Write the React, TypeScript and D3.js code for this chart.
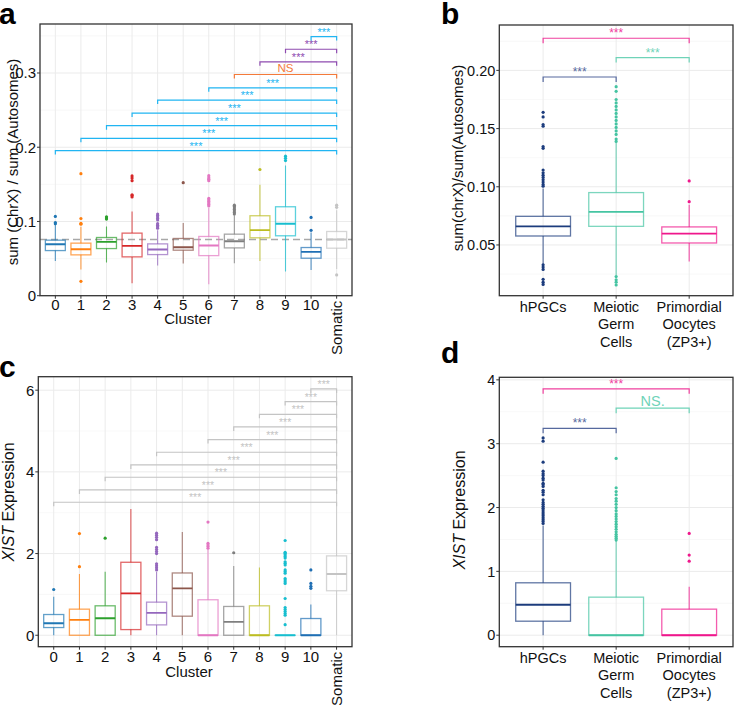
import React from "react";
import * as d3 from "d3";

// ---- panel a / c : clusters ----
const clusters = ["0", "1", "2", "3", "4", "5", "6", "7", "8", "9", "10", "Somatic"];
const clusterColors = [
  "#1f77b4", "#ff7f0e", "#2ca02c", "#d62728", "#9467bd", "#8c564b",
  "#e377c2", "#7f7f7f", "#bcbd22", "#17becf", "#1f6fb4", "#c4c4c4",
];

// chrX / autosome ratio per cluster
const aLow = [0.0469, 0.0352, 0.0446, 0.0167, 0.0406, 0.0433, 0.0154, 0.0437, 0.0469, 0.0325, 0.0347, 0.036];
const aQ1 = [0.0608, 0.055, 0.0635, 0.0523, 0.0554, 0.0613, 0.054, 0.0644, 0.078, 0.0807, 0.0505, 0.064];
const aMed = [0.0694, 0.0626, 0.0725, 0.0671, 0.0622, 0.0653, 0.0676, 0.0734, 0.0883, 0.0969, 0.059, 0.0757];
const aQ3 = [0.0748, 0.0708, 0.0784, 0.0843, 0.0698, 0.0771, 0.0798, 0.0829, 0.1077, 0.1198, 0.0649, 0.0865];
const aHigh = [0.0951, 0.0928, 0.0933, 0.1135, 0.088, 0.0978, 0.118, 0.108, 0.1496, 0.1753, 0.085, 0.115];
const aOutliers = [
  [0.0969, 0.0985, 0.1068],
  [0.0194, 0.0964, 0.0975, 0.104, 0.1644],
  [0.1032, 0.1045, 0.1063],
  [0.133, 0.135, 0.136, 0.155, 0.1585, 0.1613],
  [0.091, 0.093, 0.095, 0.097, 0.102, 0.104, 0.106, 0.108, 0.11],
  [0.1523],
  [0.121, 0.123, 0.125, 0.127, 0.129, 0.131, 0.155, 0.157, 0.159, 0.1617],
  [0.11, 0.112, 0.114, 0.116, 0.118, 0.12, 0.122],
  [0.17],
  [0.182, 0.185, 0.188],
  [0.088, 0.1054],
  [0.028, 0.119, 0.122],
];
const aSomaticMedian = 0.0757;
const aTicks = [0, 0.1, 0.2, 0.3];
const aTickLabels = ["0", "0.1", "0.2", "0.3"];
const aMinor = [0.05, 0.15, 0.25, 0.35];
const aBracketFrom = ["0", "1", "2", "3", "4", "6", "7", "8", "9", "10"];
const aBracketY = [0.1955, 0.212, 0.229, 0.246, 0.2635, 0.28, 0.298, 0.315, 0.332, 0.349];
const aBracketText = ["***", "***", "***", "***", "***", "***", "NS", "***", "***", "***"];
const aBracketColors = ["#21b5f2", "#21b5f2", "#21b5f2", "#21b5f2", "#21b5f2", "#21b5f2", "#f47a3a", "#8e4bb0", "#8e4bb0", "#21b5f2"];

// XIST expression per cluster
const cLow = [0, 0, 0, 0, 0, 0, 0, 0, 0, 0, 0, 0];
const cQ1 = [0.189, 0, 0, 0.139, 0.254, 0.467, 0, 0, 0, 0, 0, 1.09];
const cMed = [0.295, 0.377, 0.418, 1.025, 0.549, 1.148, 0, 0.328, 0, 0, 0, 1.5];
const cQ3 = [0.508, 0.639, 0.721, 1.787, 0.811, 1.525, 0.869, 0.705, 0.721, 0, 0.41, 1.943];
const cHigh = [0.943, 1.5, 1.557, 3.09, 1.55, 2.525, 2.1, 1.697, 1.656, 0, 0.754, 6.0];
const cOutliers = [
  [1.12],
  [1.68, 2.49],
  [2.377],
  [],
  [1.6, 1.65, 1.7, 1.75, 2.0, 2.05, 2.1, 2.15, 2.34, 2.4, 2.45, 2.5],
  [],
  [2.13, 2.17, 2.21, 2.25, 2.77],
  [2.02],
  [],
  [0.26, 0.49, 0.53, 0.58, 0.63, 0.68, 0.9, 1.27, 1.31, 1.35, 1.39, 1.52, 1.56, 1.6, 1.72, 1.76, 1.8, 1.89, 1.93, 1.97, 2.01, 2.03, 2.32],
  [1.15, 1.2, 1.27, 1.6],
  [],
];
const cTicks = [0, 2, 4, 6];
const cTickLabels = ["0", "2", "4", "6"];
const cMinor = [1, 3, 5];
const cBracketY = [3.256, 3.557, 3.868, 4.17, 4.48, 4.79, 5.1, 5.41, 5.72, 6.03];

// ---- panel b / d : cell types ----
const cellTypes = ["hPGCs", "Meiotic\nGerm\nCells", "Primordial\nOocytes\n(ZP3+)"];
const cellColors = ["#1c3c7d", "#45c4a2", "#ef178c"];

const bLow = [0.0328, 0.024, 0.0357];
const bQ1 = [0.0577, 0.066, 0.0517];
const bMed = [0.066, 0.0784, 0.0597];
const bQ3 = [0.0746, 0.095, 0.0655];
const bHigh = [0.0985, 0.138, 0.0845];
const bOutliers = [
  [0.0161, 0.018, 0.0205, 0.029, 0.031, 0.033, 0.1005, 0.102, 0.104, 0.106, 0.108, 0.11, 0.112, 0.1144, 0.133, 0.1345, 0.152, 0.1535, 0.16, 0.164],
  [0.0156, 0.018, 0.02, 0.0228, 0.139, 0.141, 0.145, 0.148, 0.151, 0.154, 0.157, 0.16, 0.163, 0.166, 0.169, 0.172, 0.175, 0.182, 0.186],
  [0.0872, 0.105],
];
const bTicks = [0.05, 0.1, 0.15, 0.2];
const bTickLabels = ["0.05", "0.10", "0.15", "0.20"];
const bMinor = [0.025, 0.075, 0.125, 0.175, 0.225];
const bBracketFrom = [0, 1, 0];
const bBracketTo = [1, 2, 2];
const bBracketY = [0.1943, 0.211, 0.2276];
const bBracketText = ["***", "***", "***"];

const dLow = [0, 0, 0];
const dQ1 = [0.2196, 0, 0];
const dMed = [0.476, 0, 0];
const dQ3 = [0.821, 0.596, 0.408];
const dHigh = [1.72, 1.48, 0.758];
const dOutliers = [
  [1.75, 1.78, 1.81, 1.84, 1.87, 1.9, 1.93, 1.96, 1.99, 2.02, 2.05, 2.08, 2.12, 2.2, 2.24, 2.27, 2.33, 2.36, 2.38, 2.43, 2.46, 2.5, 2.53, 2.57, 2.71, 3.04, 3.09],
  [1.49, 1.52, 1.55, 1.58, 1.62, 1.66, 1.7, 1.74, 1.78, 1.82, 1.86, 1.9, 1.95, 2.0, 2.05, 2.1, 2.14, 2.2, 2.25, 2.31, 2.77],
  [1.16, 1.255, 1.594],
];
const dTicks = [0, 1, 2, 3, 4];
const dTickLabels = ["0", "1", "2", "3", "4"];
const dMinor = [0.5, 1.5, 2.5, 3.5];
const dBracketY = [3.24, 3.556, 3.86];
const dBracketText = ["***", "NS.", "***"];

const FONT = "'Liberation Sans', Arial, Helvetica, sans-serif";

type Bracket = { from: number; to: number; y: number; label: string; color: string; size: number; lift: number };

type PanelProps = {
  left: number; right: number; top: number; bottom: number;
  cats: string[]; domain: [number, number];
  ticks: number[]; tickLabels: string[]; minor: number[];
  low: number[]; q1: number[]; med: number[]; q3: number[]; high: number[]; outliers: number[][];
  colors: string[]; boxFrac: number; fontSize: number;
  labelBaseline: number; lineHeight: number;
  brackets: Bracket[]; bracketTick: number;
  refLine?: number;
  rotateLast?: boolean;
};

function Panel(p: PanelProps) {
  const x = d3.scalePoint<string>().domain(p.cats).range([p.left, p.right]).padding(0.6);
  const y = d3.scaleLinear().domain(p.domain).range([p.bottom, p.top]);
  const bw = x.step() * p.boxFrac;
  const clip = `clip-${Math.round(p.left)}-${Math.round(p.top)}`;

  return (
    <g fontFamily={FONT}>
      <defs>
        <clipPath id={clip}>
          <rect x={p.left} y={p.top} width={p.right - p.left} height={p.bottom - p.top} />
        </clipPath>
      </defs>
      <rect x={p.left} y={p.top} width={p.right - p.left} height={p.bottom - p.top} fill="#fff" />
      <g clipPath={`url(#${clip})`}>
        {p.minor.map((t) => (
          <line key={"mn" + t} x1={p.left} x2={p.right} y1={y(t)} y2={y(t)} stroke="#f4f4f4" strokeWidth={0.6} />
        ))}
        {p.ticks.map((t) => (
          <line key={"mj" + t} x1={p.left} x2={p.right} y1={y(t)} y2={y(t)} stroke="#ebebeb" strokeWidth={1} />
        ))}
        {p.cats.map((c) => (
          <line key={"v" + c} x1={x(c)} x2={x(c)} y1={p.top} y2={p.bottom} stroke="#ebebeb" strokeWidth={1} />
        ))}
        {p.refLine !== undefined && (
          <line x1={p.left} x2={p.right} y1={y(p.refLine)} y2={y(p.refLine)} stroke="#a8a8a8" strokeWidth={1.6} strokeDasharray="7,4" />
        )}
        {p.cats.map((c, i) => {
          const cx = x(c) as number;
          const col = p.colors[i];
          return (
            <g key={"b" + c}>
              <line x1={cx} x2={cx} y1={y(p.q3[i])} y2={y(p.high[i])} stroke={col} strokeOpacity={0.75} strokeWidth={1.1} />
              <line x1={cx} x2={cx} y1={y(p.q1[i])} y2={y(p.low[i])} stroke={col} strokeOpacity={0.75} strokeWidth={1.1} />
              <rect x={cx - bw / 2} y={y(p.q3[i])} width={bw} height={Math.max(0.01, y(p.q1[i]) - y(p.q3[i]))} fill="none" stroke={col} strokeOpacity={0.7} strokeWidth={1.3} />
              <line x1={cx - bw / 2} x2={cx + bw / 2} y1={y(p.med[i])} y2={y(p.med[i])} stroke={col} strokeWidth={1.9} />
              {p.outliers[i].map((v, k) => (
                <circle key={k} cx={cx} cy={y(v)} r={1.6} fill={col} />
              ))}
            </g>
          );
        })}
        {p.brackets.map((b, i) => {
          const xa = x(p.cats[b.from]) as number;
          const xb = x(p.cats[b.to]) as number;
          const yy = y(b.y);
          return (
            <g key={"br" + i}>
              <path d={`M${xa},${yy + p.bracketTick}V${yy}H${xb}V${yy + p.bracketTick}`} fill="none" stroke={b.color} strokeWidth={1.2} />
              <text x={(xa + xb) / 2} y={yy - b.lift} textAnchor="middle" fontSize={b.size} fill={b.color}>
                {b.label}
              </text>
            </g>
          );
        })}
      </g>
      <rect x={p.left} y={p.top} width={p.right - p.left} height={p.bottom - p.top} fill="none" stroke="#333" strokeWidth={1.3} />
      {p.ticks.map((t) => (
        <g key={"yt" + t}>
          <line x1={p.left - 3} x2={p.left} y1={y(t)} y2={y(t)} stroke="#333" strokeWidth={1} />
        </g>
      ))}
      {p.ticks.map((t, i) => (
        <text key={"ytl" + t} x={p.left - 4} y={y(t)} dy="0.36em" textAnchor="end" fontSize={p.fontSize} fill="#111">
          {p.tickLabels[i]}
        </text>
      ))}
      {p.cats.map((c, i) => {
        const cx = x(c) as number;
        const rot = p.rotateLast && i === p.cats.length - 1;
        return (
          <g key={"xt" + c}>
            <line x1={cx} x2={cx} y1={p.bottom} y2={p.bottom + 3} stroke="#333" strokeWidth={1} />
            {rot ? (
              <text transform={`translate(${cx + 5},${p.bottom + 5}) rotate(-90)`} textAnchor="end" fontSize={p.fontSize} fill="#111">
                {c}
              </text>
            ) : (
              <text x={cx} y={p.labelBaseline} textAnchor="middle" fontSize={p.fontSize} fill="#111">
                {c.split("\n").map((line, k) => (
                  <tspan key={k} x={cx} dy={k === 0 ? 0 : p.lineHeight}>
                    {line}
                  </tspan>
                ))}
              </text>
            )}
          </g>
        );
      })}
    </g>
  );
}

function clusterBrackets(ys: number[], texts: string[], colors: string[], size: number, nsSize: number): Bracket[] {
  return aBracketFrom.map((f, i) => ({
    from: clusters.indexOf(f),
    to: clusters.length - 1,
    y: ys[i],
    label: texts[i],
    color: colors[i],
    size: texts[i] === "***" ? size : nsSize,
    lift: texts[i] === "***" ? 1 : 2.5,
  }));
}

export default function App() {
  const aBr = clusterBrackets(aBracketY, aBracketText, aBracketColors, 11, 11.5);
  const cBr = clusterBrackets(cBracketY, cBracketY.map(() => "***"), cBracketY.map(() => "#c4c4c4"), 10.5, 10.5);
  const bBr: Bracket[] = bBracketY.map((v, i) => ({
    from: bBracketFrom[i], to: bBracketTo[i], y: v, label: bBracketText[i],
    color: ["#56699e", "#6fd3b8", "#f0409e"][i], size: 12, lift: 1,
  }));
  const dBr: Bracket[] = dBracketY.map((v, i) => ({
    from: bBracketFrom[i], to: bBracketTo[i], y: v, label: dBracketText[i],
    color: ["#56699e", "#6fd3b8", "#f0409e"][i], size: dBracketText[i] === "NS." ? 14.5 : 12, lift: dBracketText[i] === "NS." ? 2 : 1,
  }));

  return (
    <svg width={734} height={705} style={{ position: "absolute", left: 0, top: 0, background: "#fff" }} fontFamily={FONT}>
      <Panel
        left={40} right={352} top={24} bottom={295.7}
        cats={clusters} domain={[0, 0.366]}
        ticks={aTicks} tickLabels={aTickLabels} minor={aMinor}
        low={aLow} q1={aQ1} med={aMed} q3={aQ3} high={aHigh} outliers={aOutliers}
        colors={clusterColors} boxFrac={0.78} fontSize={15}
        labelBaseline={309.5} lineHeight={17}
        brackets={aBr} bracketTick={4} refLine={aSomaticMedian} rotateLast
      />
      <Panel
        left={499.3} right={733} top={25} bottom={295.7}
        cats={cellTypes} domain={[0.0064, 0.239]}
        ticks={bTicks} tickLabels={bTickLabels} minor={bMinor}
        low={bLow} q1={bQ1} med={bMed} q3={bQ3} high={bHigh} outliers={bOutliers}
        colors={cellColors} boxFrac={0.75} fontSize={14.5}
        labelBaseline={312} lineHeight={17.3}
        brackets={bBr} bracketTick={5}
      />
      <Panel
        left={38.3} right={352} top={376.7} bottom={646.7}
        cats={clusters} domain={[-0.28, 6.33]}
        ticks={cTicks} tickLabels={cTickLabels} minor={cMinor}
        low={cLow} q1={cQ1} med={cMed} q3={cQ3} high={cHigh} outliers={cOutliers}
        colors={clusterColors} boxFrac={0.78} fontSize={15}
        labelBaseline={662} lineHeight={17}
        brackets={cBr} bracketTick={4} rotateLast
      />
      <Panel
        left={499.3} right={733} top={377.3} bottom={646.7}
        cats={cellTypes} domain={[-0.18, 4.04]}
        ticks={dTicks} tickLabels={dTickLabels} minor={dMinor}
        low={dLow} q1={dQ1} med={dMed} q3={dQ3} high={dHigh} outliers={dOutliers}
        colors={cellColors} boxFrac={0.75} fontSize={14.5}
        labelBaseline={662.7} lineHeight={17.5}
        brackets={dBr} bracketTick={5}
      />

      {/* axis titles */}
      <text transform="translate(18,162) rotate(-90)" textAnchor="middle" fontSize={15} fill="#111">
        sum (ChrX) / sum (Autosomes)
      </text>
      <text x={188} y={324} textAnchor="middle" fontSize={15} fill="#111">Cluster</text>
      <text transform="translate(463,158) rotate(-90)" textAnchor="middle" fontSize={15} fill="#111">
        sum(chrX)/sum(Autosomes)
      </text>
      <text transform="translate(13.5,502) rotate(-90)" textAnchor="middle" fontSize={16} fill="#111">
        <tspan fontStyle="italic">XIST</tspan> Expression
      </text>
      <text x={189} y={676.5} textAnchor="middle" fontSize={15} fill="#111">Cluster</text>
      <text transform="translate(465,510) rotate(-90)" textAnchor="middle" fontSize={16} fill="#111">
        <tspan fontStyle="italic">XIST</tspan> Expression
      </text>

      {/* panel letters */}
      <text x={-1} y={24} fontSize={30} fontWeight="bold" fill="#000">a</text>
      <text x={441} y={23.5} fontSize={30} fontWeight="bold" fill="#000">b</text>
      <text x={-1} y={377} fontSize={30} fontWeight="bold" fill="#000">c</text>
      <text x={441} y={363} fontSize={30} fontWeight="bold" fill="#000">d</text>
    </svg>
  );
}
